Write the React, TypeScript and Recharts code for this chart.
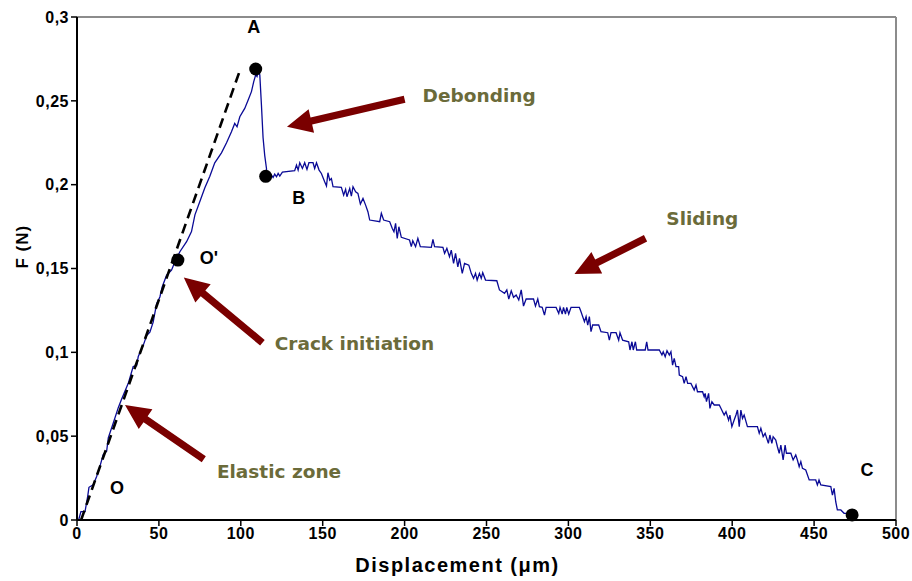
import React from 'react';
import { ComposedChart, Line, Scatter, XAxis, YAxis, ReferenceLine } from 'recharts';

// loading branch O -> O' -> A, then the drop A -> B
const loadDisp = [
  1, 2.4, 4.9, 6.5, 7.3, 9.9, 12, 14, 16, 18.1, 19.1, 22.2, 25.2, 27.2, 31.3, 34.3, 36.4, 37.4, 40.4, 42.5,
  44.5, 46.5, 48.6, 50.6, 52, 54.7, 57.7, 59.8, 62.8, 66.9, 69.9, 72, 75, 78, 81.1, 84.1, 88.2, 91.3, 94.3, 96.3,
  97.7, 99.4, 102.4, 104.5, 106.5, 107.9, 109.1, 109.9, 110.5, 111.6, 112.6, 113.6, 114.6, 115.7, 115.7,
];
const loadForce = [
  0, 0.005, 0.005, 0.014, 0.0195, 0.021, 0.026, 0.032, 0.039, 0.041, 0.049, 0.058, 0.067, 0.072, 0.0815, 0.0915, 0.092, 0.0975, 0.104, 0.11,
  0.112, 0.118, 0.129, 0.133, 0.139, 0.146, 0.149, 0.154, 0.16, 0.166, 0.172, 0.182, 0.19, 0.198, 0.205, 0.213, 0.219, 0.225, 0.2315, 0.2365,
  0.2345, 0.2405, 0.2455, 0.2505, 0.2555, 0.2615, 0.2655, 0.2645, 0.267, 0.2655, 0.2475, 0.228, 0.2175, 0.2095, 0.2045,
];

// sliding branch B -> C
const slideDisp = [
  115.7, 118.7, 119.7, 120.7, 121.8, 122.8, 123.8, 125.4, 132.9, 134, 135, 136, 137.6, 139, 140.4, 141.6, 144.1, 145.1, 146.2, 147.8,
  149.2, 151.2, 152.3, 153.2, 154.3, 155.3, 156.3, 161.4, 162.8, 164, 164.8, 166.5, 167.5, 168.5, 170.1, 171.5, 173, 174.6, 176.2, 177.6,
  178.7, 184.8, 185.8, 187.2, 190.9, 192.5, 193.5, 194.5, 195.5, 196.5, 198, 203, 204.1, 205, 206.7, 208.1, 209.6, 216.3, 217.3, 218.3,
  223.4, 224.4, 225.8, 227.4, 228.5, 229.9, 231.1, 232.5, 233.5, 235.2, 236.6, 239.2, 240.7, 242.1, 243.3, 244.3, 245.7, 246.8, 247.7, 249.4,
  256.3, 257.9, 261, 262.4, 263.6, 265.1, 266.5, 268.1, 269.7, 271.2, 272.6, 274.2, 278.7, 279.9, 281.3, 282.3, 284, 285.4, 286.4, 292.5,
  294.1, 294.9, 296.2, 297, 298.2, 299, 300.2, 301.6, 306.7, 307.7, 309.8, 310.8, 311.8, 312.8, 313.8, 314.8, 318.5, 319.9, 324, 325,
  326, 329.1, 330.7, 331.5, 333.1, 336.8, 337.6, 338.8, 339.6, 340.9, 341.7, 346.9, 347.8, 348.6, 355.5, 357.1, 357.9, 359.1, 360.2, 361.6,
  362.6, 363.6, 364.6, 365.7, 367.3, 367.7, 369.7, 370.7, 371.8, 372.8, 374.8, 376.8, 377.9, 378.8, 381.9, 382.9, 383.5, 384.3, 385.6, 386.4,
  387.6, 389, 392.1, 393.1, 395.1, 396.2, 397.8, 398.6, 399.8, 401.2, 402.3, 403.2, 404.3, 405.3, 406.3, 407.3, 409.3, 415.4, 416.5, 417.5,
  418.9, 420.1, 422.1, 423, 424.2, 425, 426.6, 427.6, 428.7, 429.7, 431.1, 432.3, 433.1, 435.8, 437.2, 438.8, 439.8, 440.9, 441.9, 442.9,
  444.9, 447, 451, 452, 453, 454.1, 460.2, 461.2, 462.2, 463.2, 464.2, 466.3, 468.3, 470.3, 472.4,
];
const slideForce = [
  0.2037, 0.2057, 0.2043, 0.2063, 0.2047, 0.2067, 0.2051, 0.2075, 0.2083, 0.2117, 0.2087, 0.2131, 0.2097, 0.2131, 0.2091, 0.2131, 0.2131, 0.2097, 0.2131, 0.2087,
  0.2067, 0.2017, 0.1992, 0.2071, 0.2027, 0.2037, 0.1988, 0.1984, 0.1938, 0.1972, 0.1928, 0.1978, 0.1932, 0.1988, 0.1958, 0.1948, 0.1884, 0.1918, 0.1878, 0.1839,
  0.1789, 0.1779, 0.1829, 0.1789, 0.1779, 0.1739, 0.1719, 0.1769, 0.1679, 0.1749, 0.1686, 0.167, 0.163, 0.1666, 0.163, 0.168, 0.163, 0.1626, 0.1674, 0.163,
  0.1626, 0.159, 0.162, 0.157, 0.161, 0.1531, 0.159, 0.151, 0.156, 0.1471, 0.1531, 0.152, 0.1471, 0.1441, 0.1471, 0.1431, 0.1471, 0.1441, 0.1475, 0.1431,
  0.1427, 0.1372, 0.1352, 0.1372, 0.1318, 0.1367, 0.1328, 0.1342, 0.1312, 0.1372, 0.1276, 0.1318, 0.1318, 0.1276, 0.1318, 0.1272, 0.1268, 0.1222, 0.1268, 0.1268,
  0.1232, 0.1268, 0.1228, 0.1268, 0.1228, 0.1268, 0.1228, 0.1268, 0.1268, 0.1242, 0.1183, 0.1213, 0.1163, 0.1213, 0.1123, 0.1163, 0.1163, 0.1123, 0.1117, 0.1073,
  0.1117, 0.1117, 0.1073, 0.1117, 0.1073, 0.1063, 0.1014, 0.1063, 0.1014, 0.1063, 0.1014, 0.1014, 0.1063, 0.1014, 0.1014, 0.0984, 0.1004, 0.0974, 0.101, 0.0984,
  0.1004, 0.0924, 0.0964, 0.0915, 0.0915, 0.0865, 0.0855, 0.0815, 0.0855, 0.0815, 0.0815, 0.0775, 0.0805, 0.0765, 0.0765, 0.0735, 0.0755, 0.0706, 0.0755, 0.0666,
  0.0706, 0.0686, 0.0686, 0.0666, 0.0626, 0.0646, 0.0596, 0.0626, 0.0557, 0.0596, 0.0626, 0.0656, 0.0557, 0.0656, 0.0606, 0.0626, 0.0557, 0.0557, 0.0517, 0.0547,
  0.0497, 0.0517, 0.0457, 0.0507, 0.0457, 0.0497, 0.0477, 0.0437, 0.0398, 0.0447, 0.0358, 0.0447, 0.0398, 0.0398, 0.0358, 0.0388, 0.0358, 0.0318, 0.0348, 0.0308,
  0.0298, 0.0239, 0.0239, 0.0209, 0.0239, 0.0209, 0.0199, 0.0149, 0.0189, 0.0109, 0.006, 0.006, 0.004, 0.004, 0.003,
];

// elastic slope (dashed)
const slopeDisp = [2.5, 99.4];
const slopeForce = [0, 0.268];

// key points
const pointNames = ["O'", 'A', 'B', 'C'];
const pointDisp = [61.6, 109.1, 115.2, 473.2];
const pointForce = [0.155, 0.269, 0.205, 0.003];

// point letters
const letterText = ['A', 'B', "O'", 'O', 'C'];
const letterDisp = [107.9, 135.4, 80.5, 24.4, 482.3];
const letterForce = [0.294, 0.192, 0.156, 0.019, 0.03];

// annotations: text start + arrow tail/tip
const noteText = ['Debonding', 'Sliding', 'Crack initiation', 'Elastic zone'];
const noteDisp = [211, 359.8, 120.7, 85.4];
const noteForce = [0.2534, 0.18, 0.105, 0.0288];
const arrowFrom = [[200, 0.251], [347.1, 0.168], [113.2, 0.1057], [77.4, 0.0362]];
const arrowTo = [[128.2, 0.2346], [303.7, 0.1467], [65.2, 0.1447], [29.3, 0.0686]];

const xTicks = [0, 50, 100, 150, 200, 250, 300, 350, 400, 450, 500];
const yTicks = [0, 0.05, 0.1, 0.15, 0.2, 0.25, 0.3];

const curve = [
  ...loadDisp.map((x, i) => ({ x, f: loadForce[i] })),
  ...slideDisp.map((x, i) => ({ x, f: slideForce[i] })),
];
const slope = slopeDisp.map((x, i) => ({ x, f: slopeForce[i] }));
const points = pointDisp.map((x, i) => ({ x, f: pointForce[i], name: pointNames[i] }));
const letters = letterDisp.map((x, i) => ({ x, f: letterForce[i], text: letterText[i] }));
const notes = noteDisp.map((x, i) => ({ x, f: noteForce[i], text: noteText[i] }));

const ARROW = '#7a0000';
const OLIVE = '#6b6b3a';
const tickStyle = { fill: '#000', fontSize: 16, fontWeight: 700, fontFamily: 'Liberation Sans, Arial, sans-serif', letterSpacing: 0.5 };

const Arrow = (props: any) => {
  const { x1, y1, x2, y2 } = props;
  const dx = x2 - x1;
  const dy = y2 - y1;
  const len = Math.sqrt(dx * dx + dy * dy) || 1;
  const ux = dx / len;
  const uy = dy / len;
  const nx = -uy;
  const ny = ux;
  const w = 3.6;
  const hw = 12;
  const hl = 25;
  const bx = x2 - ux * hl;
  const by = y2 - uy * hl;
  const pts = [
    [x1 + nx * w, y1 + ny * w],
    [bx + nx * w, by + ny * w],
    [bx + nx * hw, by + ny * hw],
    [x2, y2],
    [bx - nx * hw, by - ny * hw],
    [bx - nx * w, by - ny * w],
    [x1 - nx * w, y1 - ny * w],
  ];
  return <polygon points={pts.map((p) => p.join(',')).join(' ')} fill={ARROW} />;
};

export default function App() {
  return (
    <div style={{ width: 912, height: 581, background: '#fff' }}>
      <style>{'body{margin:0}'}</style>
      <ComposedChart width={912} height={581} margin={{ top: 17, right: 16, left: 17, bottom: 0 }}>
        <XAxis
          dataKey="x"
          type="number"
          domain={[0, 500]}
          ticks={xTicks}
          tickSize={6}
          height={61}
          axisLine={{ stroke: '#000', strokeWidth: 2 }}
          tickLine={{ stroke: '#000', strokeWidth: 1.5 }}
          tick={tickStyle}
          label={{ value: 'Displacement (μm)', position: 'insideBottom', offset: 9, dx: -29, fill: '#000', fontSize: 20, fontWeight: 700, fontFamily: 'Liberation Sans, Arial, sans-serif', letterSpacing: 1.5 }}
        />
        <YAxis
          type="number"
          domain={[0, 0.3]}
          ticks={yTicks}
          width={60}
          tickSize={6}
          axisLine={{ stroke: '#000', strokeWidth: 2 }}
          tickLine={{ stroke: '#000', strokeWidth: 1.5 }}
          tick={tickStyle}
          tickFormatter={(v) => String(v).replace('.', ',')}
          label={{ value: 'F (N)', angle: -90, position: 'insideLeft', offset: 5, fill: '#000', fontSize: 17, fontWeight: 700, fontFamily: 'Liberation Sans, Arial, sans-serif', letterSpacing: 1 }}
        />
        <ReferenceLine y={0.3} stroke="#8c8c8c" strokeWidth={2} />
        <ReferenceLine x={500} stroke="#8c8c8c" strokeWidth={2} />
        {arrowFrom.map((a, i) => (
          <ReferenceLine
            key={i}
            segment={[{ x: a[0], y: a[1] }, { x: arrowTo[i][0], y: arrowTo[i][1] }]}
            shape={Arrow}
          />
        ))}
        <Line data={curve} dataKey="f" type="linear" stroke="#0a0a96" strokeWidth={1.3} dot={false} isAnimationActive={false} />
        <Line data={slope} dataKey="f" type="linear" stroke="#000" strokeWidth={2.6} strokeDasharray="10 6" dot={false} isAnimationActive={false} />
        <Scatter
          data={points}
          dataKey="f"
          isAnimationActive={false}
          shape={(p: any) => <circle cx={p.cx} cy={p.cy} r={6.5} fill="#000" />}
        />
        <Scatter
          data={letters}
          dataKey="f"
          isAnimationActive={false}
          shape={(p: any) => (
            <text x={p.cx} y={p.cy} textAnchor="middle" dominantBaseline="central" fontSize={18} fontWeight={700} fontFamily="Liberation Sans, Arial, sans-serif" fill="#000">
              {p.payload.text}
            </text>
          )}
        />
        <Scatter
          data={notes}
          dataKey="f"
          isAnimationActive={false}
          shape={(p: any) => (
            <text x={p.cx} y={p.cy} textAnchor="start" dominantBaseline="central" fontSize={18.5} fontWeight={700} fontFamily="DejaVu Sans, Verdana, sans-serif" fill={OLIVE}>
              {p.payload.text}
            </text>
          )}
        />
      </ComposedChart>
    </div>
  );
}
